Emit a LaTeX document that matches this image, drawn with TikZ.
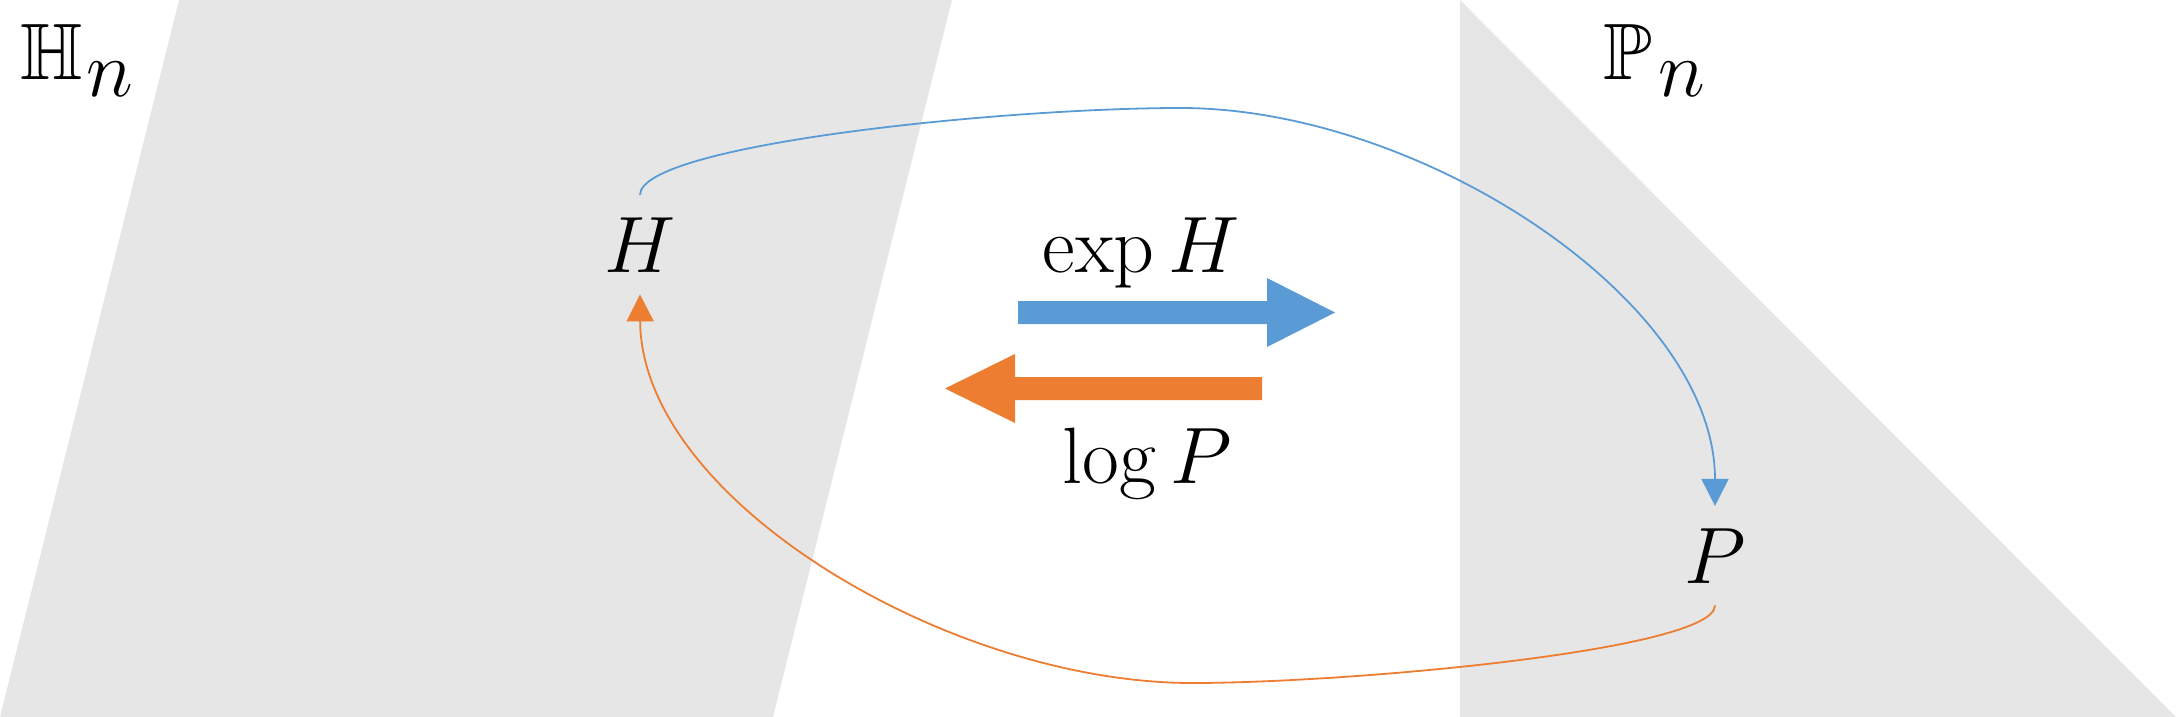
\RequirePackage{fix-cm}
\documentclass[tikz,border=0pt]{standalone}
\usepackage{amssymb}
\usetikzlibrary{arrows.meta}
\definecolor{regiongray}{HTML}{E6E6E6}
\definecolor{expblue}{HTML}{5B9BD5}
\definecolor{logorange}{HTML}{ED7D31}
\begin{document}
\begin{tikzpicture}[x=0.5pt,y=-0.5pt,
  region/.style={fill=regiongray},
  lbl/.style={inner sep=0pt, font=\fontsize{40}{48}\selectfont},
  pnode/.style={inner sep=11pt, font=\fontsize{40}{48}\selectfont},
  curve/.style={line width=0.9pt, -{Triangle[length=13.5pt,width=13.5pt]}}]
\useasboundingbox (0,0) rectangle (2176,717);
% regions
\fill[region] (179,0) -- (952,0) -- (773,717) -- (0,717) -- cycle;
\fill[region] (1460,0) -- (2176,717) -- (1460,717) -- cycle;
% labels
\node[lbl, anchor=base west] (Hn) at (20,80) {$\mathbb{H}$\hspace{2pt}\raisebox{-8.5pt}{$n$}};
\node[lbl, anchor=base west] (Pn) at (1603,80) {$\mathbb{P}$\hspace{3pt}\raisebox{-8.5pt}{$n$}};
\node[pnode, anchor=base] (H) at (640,272) {$H$};
\node[pnode, anchor=base] (P) at (1715,583) {$P$};
\node[lbl, anchor=base] (expH) at (1141,272) {$\exp H$};
\node[lbl, anchor=base] (logP) at (1147,483) {$\log P$};
% big arrows
\fill[expblue] (1018,301) -- (1267,301) -- (1267,278) -- (1335,312.5) -- (1267,347) -- (1267,324) -- (1018,324) -- cycle;
\fill[logorange] (1262,377) -- (1015,377) -- (1015,354) -- (945,388.5) -- (1015,423) -- (1015,400) -- (1262,400) -- cycle;
% curved connectors
\draw[curve, expblue] (H.north) .. controls +(0,-50) and (1000,108) .. (1181,108)
  .. controls (1420,108) and (1715,300) .. (P.north);
\draw[curve, logorange] (P.south) .. controls (1715,650) and (1350,683) .. (1192,683)
  .. controls (950,683) and (641,500) .. (H.south);
\end{tikzpicture}
\end{document}
